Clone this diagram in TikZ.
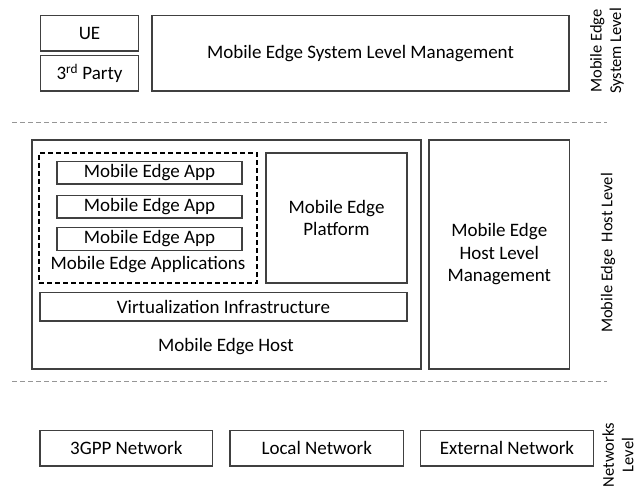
\documentclass[tikz,border=0pt]{standalone}
\usepackage{fontspec}
\setmainfont{Carlito}
\definecolor{boxgray}{RGB}{64,64,64}
\definecolor{sepgray}{RGB}{150,150,150}
\newcommand{\mainsize}{\fontsize{19}{22.5}\selectfont}
\newcommand{\levelsize}{\fontsize{16.5}{19.5}\selectfont}

\begin{document}
\begin{tikzpicture}[
    x=1pt, y=-1pt,
    box/.style={rectangle, draw=boxgray, line width=1.4pt, inner sep=0pt, align=center, font=\mainsize},
    appbox/.style={rectangle, draw=boxgray, line width=1.3pt, inner sep=0pt, minimum width=185pt, minimum height=22.5pt, font=\mainsize},
    group/.style={rectangle, draw=black, line width=1.2pt, dash pattern=on 5pt off 3pt, inner sep=0pt},
    label/.style={font=\mainsize, align=center},
    level/.style={rotate=90, align=center, font=\levelsize},
    sep/.style={draw=sepgray, line width=0.9pt, dash pattern=on 5pt off 3pt}
]
\fill[white] (0,0) rectangle (642,486);
\useasboundingbox (0,0) rectangle (642,486);

% System level
\node[box, minimum width=98pt, minimum height=35.5pt] (ue) at (89.5,33.25) {UE};
\node[box, minimum width=98pt, minimum height=35.5pt] (party) at (89.5,73.25) {3\textsuperscript{rd} Party};
\node[box, minimum width=417pt, minimum height=75.5pt] (slm) at (360.5,53.25) {Mobile Edge System Level Management};
\node[level] (syslevel) at (607,51) {Mobile Edge\\System Level};

\coordinate (sepA1) at (12,122.5);
\coordinate (sepA2) at (607,122.5);
\draw[sep] (sepA1) -- (sepA2);

% Host level
\node[box, minimum width=389pt, minimum height=229pt] (host) at (226.5,254.5) {};
\node[group, minimum width=218pt, minimum height=130pt] (apps) at (148,218) {};
\node[appbox] (app1) at (149.5,172.75) {Mobile Edge App};
\node[appbox] (app2) at (149.5,206.75) {Mobile Edge App};
\node[appbox] (app3) at (149.5,239) {Mobile Edge App};
\node[label] (appslbl) at (148,265) {Mobile Edge Applications};
\node[box, minimum width=141pt, minimum height=130pt] (platform) at (336.5,218) {Mobile Edge\\Platform};
\node[box, minimum width=367pt, minimum height=28.5pt] (virt) at (223.5,306.75) {Virtualization Infrastructure};
\node[label] (hostlbl) at (226,347) {Mobile Edge Host};
\node[box, minimum width=140.5pt, minimum height=229pt] (hlm) at (499.25,254.5) {Mobile Edge\\Host Level\\Management};
\node[level] (hostlevel) at (608,253) {Mobile Edge\ \ Host Level};

\coordinate (sepB1) at (12,381.5);
\coordinate (sepB2) at (607,381.5);
\draw[sep] (sepB1) -- (sepB2);

% Networks level
\node[box, minimum width=172.5pt, minimum height=35.5pt] (gpp) at (126.25,448.25) {3GPP Network};
\node[box, minimum width=173.5pt, minimum height=35.5pt] (local) at (316.75,448.25) {Local Network};
\node[box, minimum width=173pt, minimum height=35.5pt] (external) at (507,448.25) {External Network};
\node[level] (netlevel) at (618,455) {Networks\\Level};

\end{tikzpicture}
\end{document}
